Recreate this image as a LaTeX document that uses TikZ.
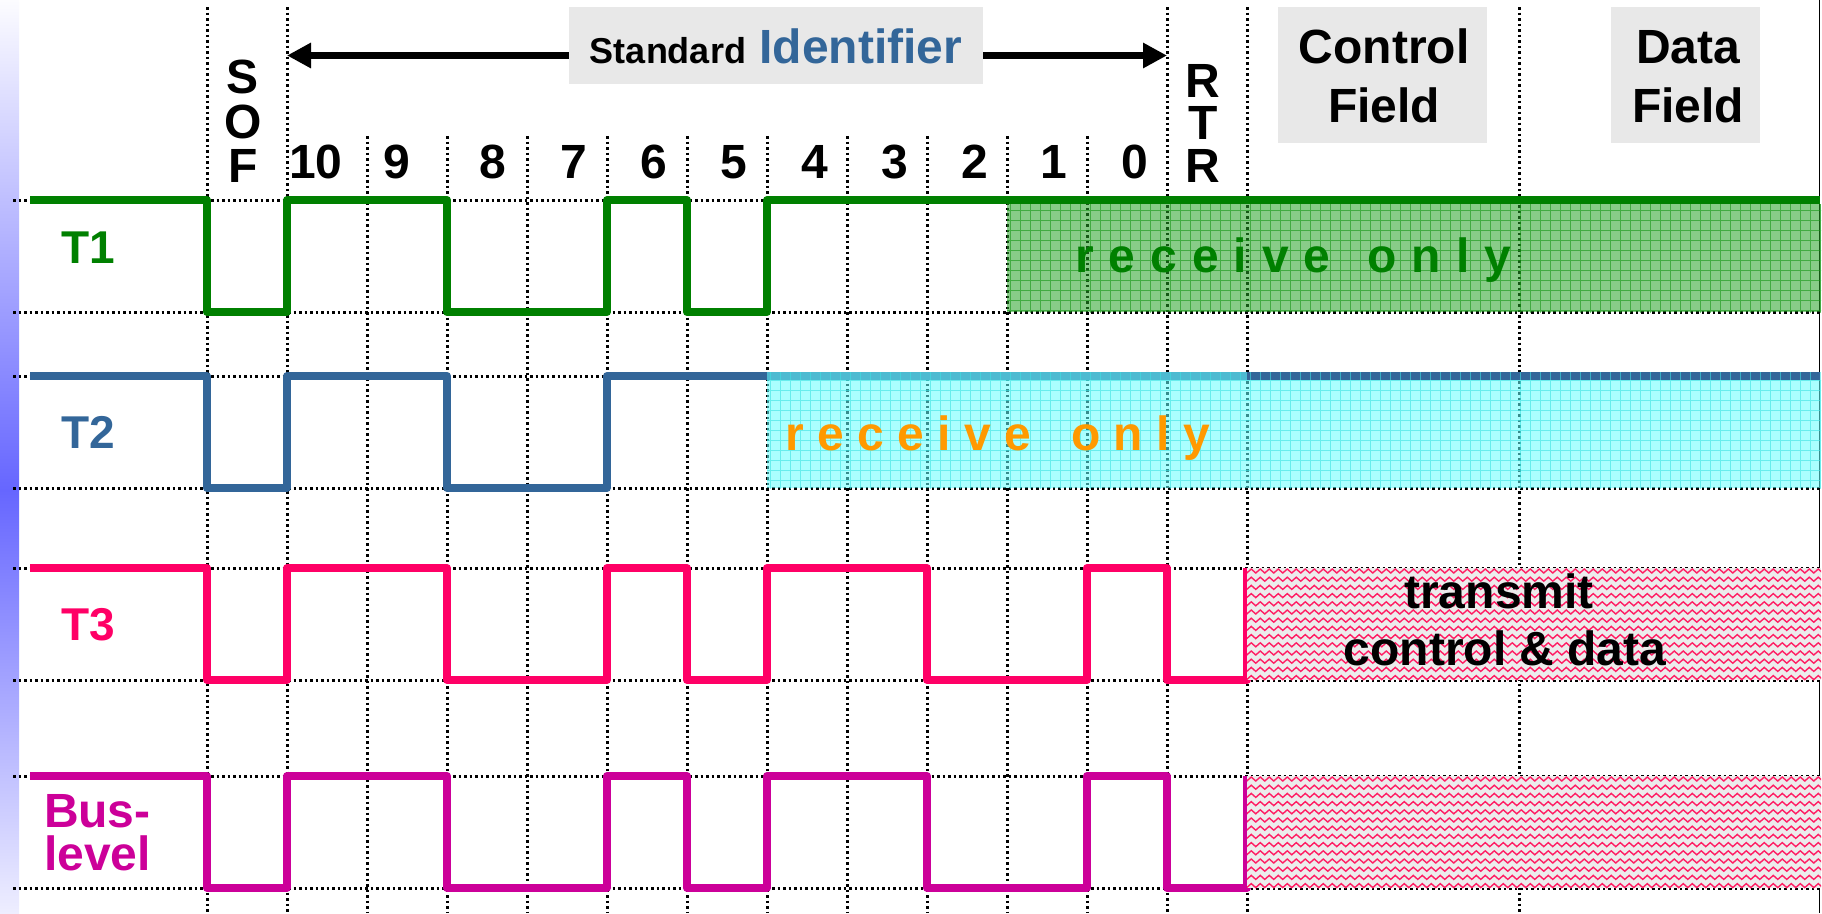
\documentclass[tikz,border=0pt]{standalone}
\usepackage{fontspec}
\setmainfont{Liberation Sans}
\usetikzlibrary{arrows.meta,decorations.pathmorphing}

\definecolor{cgreen}{RGB}{0,128,0}
\definecolor{cblue}{RGB}{51,102,153}
\definecolor{cred}{RGB}{255,0,102}
\definecolor{cmag}{RGB}{204,0,153}
\definecolor{corange}{RGB}{255,153,0}
\definecolor{boxgray}{RGB}{232,232,232}
\definecolor{gfill}{RGB}{39,162,39}
\definecolor{ggrid}{RGB}{20,150,20}
\definecolor{cfill}{RGB}{100,255,255}
\definecolor{cgrid}{RGB}{60,225,225}
\definecolor{zzback}{RGB}{236,236,236}
\definecolor{zzline}{RGB}{255,30,100}
\definecolor{stripA}{RGB}{252,252,255}
\definecolor{stripB}{RGB}{102,102,255}
\definecolor{stripC}{RGB}{238,238,255}

\tikzset{
  dots/.style={line width=3pt, dash pattern=on 2.8pt off 2.7pt, black},
  wave/.style={line width=8pt, line join=round},
  txt/.style={font=\fontsize{48}{48}\selectfont\bfseries, inner sep=0pt, outer sep=0pt},
  captxt/.style={txt, text height=35pt, text depth=0pt},
  tlbl/.style={font=\fontsize{46}{46}\selectfont\bfseries, inner sep=0pt, anchor=base west},
  hbox/.style={fill=boxgray, draw=none, inner sep=0pt},
  zz/.style={zzline, line width=1.4pt, decorate, decoration={zigzag, segment length=9pt, amplitude=2pt}},
  idarrow/.style={line width=7pt, {Triangle[length=24pt,width=24pt]}-{Triangle[length=24pt,width=24pt]}},
}

\begin{document}
\begin{tikzpicture}[x=1pt,y=-1pt]
\useasboundingbox (0,0) rectangle (1822,913);

% left gradient strip
\shade[top color=stripA, bottom color=stripB] (0,0) rectangle (19,490);
\shade[top color=stripB, bottom color=stripC] (0,490) rectangle (19,913);

% right border
\draw[line width=1.5pt] (1819.5,0) -- (1819.5,913);

% identifier arrow and header boxes
\coordinate (idL) at (287,55.5);
\coordinate (idR) at (1167,55.5);
\draw[idarrow] (idL) -- (idR);
\node[hbox, minimum width=414pt, minimum height=77pt] (sidbox) at (776,45.5) {};
\node[txt, anchor=base] (sidtxt) at (776,63) {{\fontsize{36}{36}\selectfont Standard} \textcolor{cblue}{Identifier}};

\node[hbox, minimum width=209pt, minimum height=136pt] (ctlbox) at (1382.5,75) {};
\node[captxt, anchor=base] (ctl1) at (1384,63) {Control};
\node[captxt, anchor=base] (ctl2) at (1384,122) {Field};
\node[hbox, minimum width=149pt, minimum height=136pt] (datbox) at (1685.5,75) {};
\node[captxt, anchor=base] (dat1) at (1688,63) {Data};
\node[captxt, anchor=base] (dat2) at (1688,122) {Field};

% SOF and RTR
\node[captxt, anchor=base] (sofS) at (243,93) {S};
\node[captxt, anchor=base] (sofO) at (243,138) {O};
\node[captxt, anchor=base] (sofF) at (243,182) {F};
\node[captxt, anchor=base] (rtrR) at (1203,97) {R};
\node[captxt, anchor=base] (rtrT) at (1203,139.5) {T};
\node[captxt, anchor=base] (rtrR2) at (1203,182) {R};

% bit numbers
\foreach \t/\x in {10/316,9/397,8/493,7/574,6/654,5/734,4/815,3/895,2/975,1/1054,0/1135}
  \node[captxt, anchor=base] (bit\t) at (\x,178) {\t};

% dotted grid
\foreach \y in {200,312,376,488,568,680,776,888}
  \draw[dots] (13,\y) -- (1821,\y);
\foreach \x in {207,287,1167,1247,1519}
  \draw[dots] (\x,7) -- (\x,913);
\foreach \x in {367,447,527,607,687,767,847,927,1007,1087}
  \draw[dots] (\x,136) -- (\x,913);

% waveforms
\draw[wave, cgreen] (30,200) -- (207,200) -- (207,312) -- (287,312) -- (287,200) -- (447,200) -- (447,312) -- (607,312) -- (607,200) -- (687,200) -- (687,312) -- (767,312) -- (767,200) -- (1820,200);
\draw[wave, cblue] (30,376) -- (207,376) -- (207,488) -- (287,488) -- (287,376) -- (447,376) -- (447,488) -- (607,488) -- (607,376) -- (1820,376);
\draw[wave, cred] (30,568) -- (207,568) -- (207,680) -- (287,680) -- (287,568) -- (447,568) -- (447,680) -- (607,680) -- (607,568) -- (687,568) -- (687,680) -- (767,680) -- (767,568) -- (927,568) -- (927,680) -- (1087,680) -- (1087,568) -- (1167,568) -- (1167,680) -- (1247,680) -- (1247,568);
\draw[wave, cmag] (30,776) -- (207,776) -- (207,888) -- (287,888) -- (287,776) -- (447,776) -- (447,888) -- (607,888) -- (607,776) -- (687,776) -- (687,888) -- (767,888) -- (767,776) -- (927,776) -- (927,888) -- (1087,888) -- (1087,776) -- (1167,776) -- (1167,888) -- (1247,888) -- (1247,776);

% T1 receive-only region
\fill[gfill, fill opacity=0.55] (1007,204) rectangle (1821,312);
\begin{scope}
  \clip (1007,204) rectangle (1821,312);
  \draw[ggrid, line width=1pt, draw opacity=0.6, step=10pt] (1000,200) grid (1830,320);
\end{scope}
\node[txt, anchor=base west, text=cgreen] (rx1) at (1075,272) {\spaceskip=15pt r e c e i v e\hspace{22pt} o n l y};

% T2 receive-only region
\fill[cfill, fill opacity=0.55] (767,372) rectangle (1247,488);
\fill[cfill, fill opacity=0.55] (1247,380) rectangle (1821,488);
\begin{scope}
  \clip (767,372) rectangle (1821,488);
  \draw[cgrid, line width=1pt, draw opacity=0.6, step=10pt] (760,370) grid (1830,490);
\end{scope}
\node[txt, anchor=base west, text=corange] (rx2) at (785,450) {\spaceskip=13.4pt r e c e i v e\hspace{27pt} o n l y};

% T3 transmit region
\begin{scope}
  \clip (1247,568) rectangle (1821,680);
  \fill[zzback] (1247,568) rectangle (1821,680);
  \foreach \i in {0,...,13}
    \draw[zz] (1240,571+8.2*\i) -- (1830,571+8.2*\i);
\end{scope}
\node[txt, anchor=base] (tx1) at (1499,608) {transmit};
\node[txt, anchor=base] (tx2) at (1505,665) {control \& data};

% Bus-level region
\begin{scope}
  \clip (1247,776) rectangle (1821,888);
  \fill[zzback] (1247,776) rectangle (1821,888);
  \foreach \i in {0,...,13}
    \draw[zz] (1240,779+8.2*\i) -- (1830,779+8.2*\i);
\end{scope}

% signal labels
\node[tlbl, text=cgreen] (lT1) at (61,263) {T1};
\node[tlbl, text=cblue] (lT2) at (61,448) {T2};
\node[tlbl, text=cred] (lT3) at (61,640) {T3};
\node[captxt, anchor=base west, text=cmag] (lBus1) at (44,827) {Bus-};
\node[captxt, anchor=base west, text=cmag] (lBus2) at (44,870) {level};

\end{tikzpicture}
\end{document}
